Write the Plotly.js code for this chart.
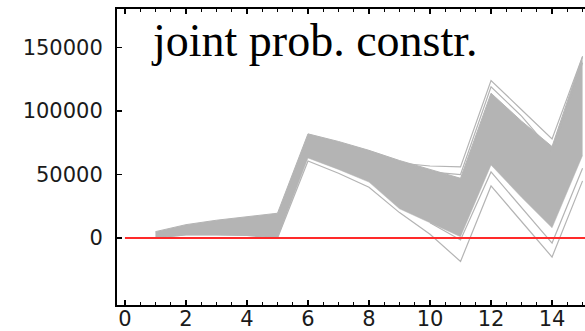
<!DOCTYPE html>
<html>
<head>
<meta charset="utf-8">
<script src="https://cdn.plot.ly/plotly-3.0.1.min.js"></script>
<style>
html,body{margin:0;padding:0;background:#fff;}
#chart{width:585px;height:331px;}
</style>
</head>
<body>
<div id="chart"></div>
<script>
// periods (x) of the scenario paths
const periods = [1, 2, 3, 4, 5, 6, 7, 8, 9, 10, 11, 12, 13, 14, 15];
// envelope of the dense bundle of scenario paths
const bandLower = [0, 2400, 2400, 2000, 0, 63000, 54000, 44000, 23000, 12000, 1000, 57500, 32000, 8000, 65000];
const bandUpper = [5000, 10500, 14000, 16500, 19500, 82000, 76000, 69000, 61000, 54000, 47000, 114000, 92000, 72000, 143000];
// individual outlying paths
const pathA = [0, 2400, 2400, 2000, 0, 60600, 51000, 40000, 20000, 3000, -18500, 41000, 13000, -15000, 45000];
const pathB = [null, null, null, null, null, null, null, null, null, 12000, -1500, 52000, 24000, -4000, 55000];
const pathC = [null, null, null, null, null, null, null, null, 59000, 56700, 56000, 124000, 101000, 78000, 143000];
const pathC2 = [null, null, null, null, null, null, null, null, 57000, 52000, 50000, 119000, 96000, 68000, 138000];
// constraint level (red line)
const limitX = [0, 16];
const limitY = [0, 0];
// tick labels
const yTicks = [0, 50000, 100000, 150000];
const titleText = 'joint prob. constr.';

const gray = '#b4b4b4';
const traces = [
  {x: periods, y: bandLower, mode: 'lines', line: {width: 0.5, color: gray}, hoverinfo: 'skip'},
  {x: periods, y: bandUpper, mode: 'lines', fill: 'tonexty', fillcolor: gray, line: {width: 1, color: gray}, hoverinfo: 'skip'},
  {x: periods, y: pathA, mode: 'lines', line: {width: 1.2, color: gray}, hoverinfo: 'skip'},
  {x: periods, y: pathB, mode: 'lines', line: {width: 1.2, color: gray}, hoverinfo: 'skip'},
  {x: periods, y: pathC, mode: 'lines', line: {width: 1.2, color: gray}, hoverinfo: 'skip'},
  {x: periods, y: pathC2, mode: 'lines', line: {width: 1.2, color: gray}, hoverinfo: 'skip'},
  {x: limitX, y: limitY, mode: 'lines', line: {width: 2, color: '#ff2a2a'}, hoverinfo: 'skip'}
];

const tickFont = {family: 'DejaVu Sans', size: 21, color: '#1a1a1a'};
const layout = {
  width: 585, height: 331,
  margin: {l: 117, r: 0, t: 9, b: 26, pad: 0},
  paper_bgcolor: '#fff', plot_bgcolor: '#fff',
  showlegend: false,
  hovermode: false,
  xaxis: {
    range: [-0.26, 15.08],
    tick0: 0, dtick: 2,
    ticks: 'inside', ticklen: 5, tickwidth: 1.5, tickcolor: '#000',
    showline: true, linecolor: '#000', linewidth: 2, mirror: 'ticks',
    showgrid: false, zeroline: false,
    tickfont: tickFont,
    ticklabelstandoff: -6,
    minor: {dtick: 0.5, ticks: 'inside', ticklen: 3, tickwidth: 1.2, tickcolor: '#000', showgrid: false}
  },
  yaxis: {
    range: [-52750, 180300],
    tickmode: 'array', tickvals: yTicks, ticktext: yTicks.map(String),
    ticks: 'inside', ticklen: 5, tickwidth: 1.5, tickcolor: '#000',
    showline: true, linecolor: '#000', linewidth: 2,
    showgrid: false, zeroline: false,
    tickfont: tickFont,
    ticklabelstandoff: 8
  },
  annotations: [{
    text: titleText, xref: 'paper', yref: 'paper',
    x: 0.068, y: 0.80, xanchor: 'left', yanchor: 'bottom',
    showarrow: false,
    font: {family: 'Liberation Serif', size: 46, color: '#000'}
  }]
};

Plotly.newPlot('chart', traces, layout, {staticPlot: true, displayModeBar: false});
</script>
</body>
</html>
